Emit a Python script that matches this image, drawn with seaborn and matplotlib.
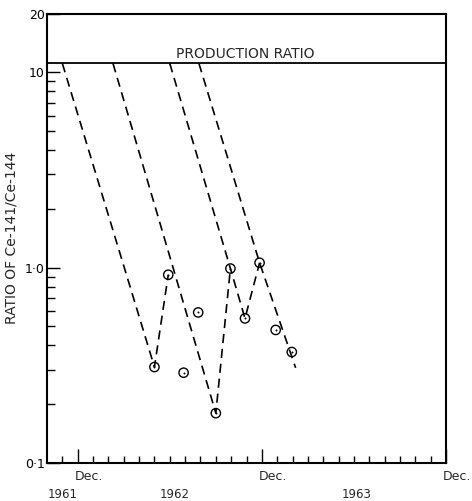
import numpy as np
import pandas as pd
import matplotlib
matplotlib.use("Agg")
import matplotlib.pyplot as plt
import matplotlib.transforms as mtransforms
from matplotlib.ticker import FixedLocator, NullFormatter
import seaborn as sns

# ---- data (x in months after 1 Oct 1961: Dec 1961 = 2, Dec 1962 = 14, Dec 1963 = 26)
point_month = [7.0, 7.9, 8.9, 9.85, 11.0, 11.95, 12.9, 13.85, 14.9, 15.95]
point_ratio = [0.31, 0.92, 0.29, 0.59, 0.18, 0.99, 0.55, 1.06, 0.48, 0.37]

production_ratio = 11.1

# dashed decay / connecting lines
lineA_month = [1.0, 7.0, 7.9]
lineA_ratio = [11.1, 0.31, 0.92]
lineB_month = [4.3, 11.0, 11.95]
lineB_ratio = [11.1, 0.18, 0.99]
lineC_month = [8.0, 11.95, 12.9, 13.85]
lineC_ratio = [11.1, 0.99, 0.55, 1.06]
lineD_month = [9.9, 13.85, 16.2]
lineD_ratio = [11.1, 1.06, 0.307]

dec_positions = [2, 14, 26]
dec_labels = ["Dec.", "Dec.", "Dec."]
year_positions = [1.0, 8.3, 20.2]
year_labels = ["1961", "1962", "1963"]

ytick_values = [0.1, 1.0, 10, 20]
ytick_labels = ["0\u00b71", "1\u00b70", "10", "20"]

sns.set_style("ticks")
plt.rcParams["font.family"] = ["DejaVu Sans"]

fig = plt.figure(figsize=(4.72, 5.01), dpi=100)
ax = fig.add_axes([0.0996, 0.0758, 0.8454, 0.8972])

lines = []
for name, xs, ys in [("A", lineA_month, lineA_ratio), ("B", lineB_month, lineB_ratio),
                     ("C", lineC_month, lineC_ratio), ("D", lineD_month, lineD_ratio)]:
    lines.append(pd.DataFrame({"month": xs, "ratio": ys, "line": name}))
ldf = pd.concat(lines, ignore_index=True)

for name, g in ldf.groupby("line"):
    sns.lineplot(data=g, x="month", y="ratio", sort=False, ax=ax, color="black",
                 lw=1.2, estimator=None)
for l in ax.get_lines():
    l.set_dashes([5.5, 3.5])

pdf = pd.DataFrame({"month": point_month, "ratio": point_ratio})
sns.scatterplot(data=pdf, x="month", y="ratio", ax=ax, s=45, marker="o",
                facecolor="none", edgecolor="black", linewidth=1.0, zorder=5)
sns.scatterplot(data=pdf, x="month", y="ratio", ax=ax, s=2, marker="o",
                color="black", linewidth=0, zorder=6)

ax.axhline(production_ratio, color="black", lw=1.3)
ax.text(12.9, 12.4, "PRODUCTION RATIO", ha="center", va="center", fontsize=10)

ax.set_yscale("log")
ax.set_ylim(0.1, 20)
ax.set_xlim(0, 26)

ax.yaxis.set_major_locator(FixedLocator(ytick_values))
ax.set_yticklabels(ytick_labels, fontsize=9)
minor_y = [m * d for d in (0.1, 1.0) for m in range(2, 10)]
ax.yaxis.set_minor_locator(FixedLocator(minor_y))
ax.yaxis.set_minor_formatter(NullFormatter())

ax.xaxis.set_major_locator(FixedLocator(dec_positions))
ax.set_xticklabels([])
ax.xaxis.set_minor_locator(FixedLocator([m for m in range(1, 26) if m not in dec_positions]))

ax.tick_params(axis="both", which="both", direction="in", width=1.0, colors="black")
ax.tick_params(axis="y", which="major", length=9, pad=1.5)
ax.tick_params(axis="y", which="minor", length=6)
ax.tick_params(axis="x", which="major", length=10)
ax.tick_params(axis="x", which="minor", length=5)

trans = mtransforms.blended_transform_factory(ax.transData, fig.transFigure)
for xp, lab in zip(dec_positions, dec_labels):
    ax.text(xp - 0.2, 1 - 477 / 501, lab, transform=trans, ha="left", va="center", fontsize=9)
for xp, lab in zip(year_positions, year_labels):
    ax.text(xp, 1 - 494 / 501, lab, transform=trans, ha="center", va="center", fontsize=8.5)

ax.set_xlabel("")
ax.set_ylabel("RATIO OF Ce-141/Ce-144", fontsize=10)
ax.yaxis.set_label_coords(-0.072, 0.5)

for s in ax.spines.values():
    s.set_visible(True)
    s.set_linewidth(1.5)
    s.set_color("black")

fig.savefig("out.png", dpi=100)
